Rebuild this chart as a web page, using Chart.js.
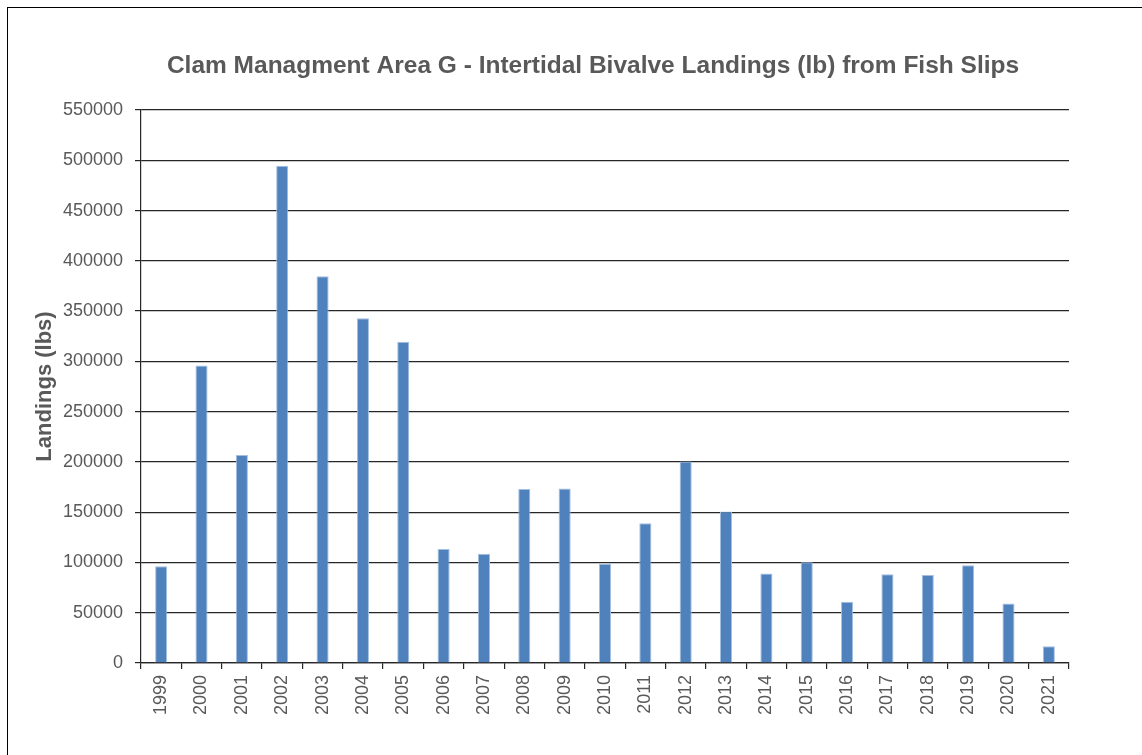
<!DOCTYPE html>
<html>
<head>
<meta charset="utf-8">
<script src="https://cdn.jsdelivr.net/npm/chart.js@4"></script>
<style>
  html, body { margin: 0; padding: 0; background: #fff; }
  #wrap { position: relative; width: 1142px; height: 755px; overflow: hidden; }
  #frame { position: absolute; left: 7px; top: 7px; width: 1200px; height: 800px; border: 1px solid #000; box-sizing: border-box; pointer-events: none; }
  canvas { position: absolute; left: 0; top: 0; }
</style>
</head>
<body>
<div id="wrap">
  <canvas id="chart" width="1142" height="755"></canvas>
  <div id="frame"></div>
</div>
<script>
const chartTitle = 'Clam Managment Area G - Intertidal Bivalve Landings (lb) from Fish Slips';
const yAxisTitle = 'Landings (lbs)';

const years = ['1999', '2000', '2001', '2002', '2003', '2004', '2005', '2006', '2007', '2008', '2009', '2010',
  '2011', '2012', '2013', '2014', '2015', '2016', '2017', '2018', '2019', '2020', '2021'];

const landings = [96200, 296000, 206900, 494600, 384600, 342800, 319600, 113300, 108600, 173000, 173600, 98600,
  139100, 200500, 150700, 89000, 100200, 60800, 88300, 87600, 97300, 59100, 16600];

const yMin = 0;
const yMax = 550000;
const yStep = 50000;

const textGray = '#595959';
const lineDark = '#262626';
const fontFamily = '"Liberation Sans", Arial, sans-serif';

// Heading drawn centred over the plot
const headingPlugin = {
  id: 'heading',
  afterDraw(chart) {
    const ctx = chart.ctx;
    ctx.save();
    ctx.font = 'bold 24.5px ' + fontFamily;
    ctx.fillStyle = textGray;
    ctx.textAlign = 'center';
    ctx.textBaseline = 'alphabetic';
    ctx.fillText(chartTitle, 593, 73);
    ctx.restore();
  }
};

new Chart(document.getElementById('chart'), {
  type: 'bar',
  data: {
    labels: years,
    datasets: [{
      data: landings,
      backgroundColor: '#4F81BD',
      borderColor: '#a3bfe0',
      borderWidth: 1,
      barPercentage: 0.3,
      categoryPercentage: 1.0
    }]
  },
  options: {
    responsive: false,
    animation: false,
    layout: { padding: { left: 11, right: 73, top: 110, bottom: 0 } },
    plugins: {
      legend: { display: false },
      tooltip: { enabled: false },
      title: { display: false }
    },
    scales: {
      x: {
        grid: {
          offset: true,
          drawOnChartArea: false,
          drawTicks: true,
          tickLength: 6,
          color: lineDark,
          lineWidth: 1.2
        },
        border: { display: true, color: lineDark, width: 1.2 },
        ticks: {
          color: textGray,
          font: { family: fontFamily, size: 18 },
          minRotation: 90,
          maxRotation: 90,
          autoSkip: false,
          padding: 6
        },
        afterFit(scale) { scale.height = 92; }
      },
      y: {
        min: yMin,
        max: yMax,
        ticks: {
          stepSize: yStep,
          color: textGray,
          font: { family: fontFamily, size: 18 },
          padding: 12,
          callback: (v) => String(v)
        },
        grid: {
          color: lineDark,
          lineWidth: 1.2,
          tickLength: 6,
          drawTicks: true
        },
        border: { display: true, color: lineDark, width: 1.2 },
        title: {
          display: true,
          text: yAxisTitle,
          color: textGray,
          font: { family: fontFamily, size: 22, weight: 'bold' },
          padding: { top: 21, bottom: 0 }
        },
        afterFit(scale) { scale.width = 130; }
      }
    }
  },
  plugins: [headingPlugin]
});
</script>
</body>
</html>
